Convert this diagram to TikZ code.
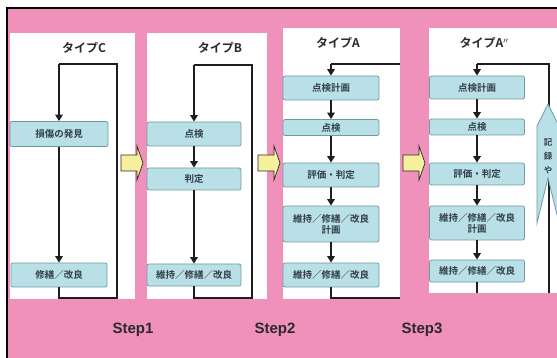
\documentclass[tikz,border=0pt]{standalone}
\usepackage{fontspec}
\setmainfont{Noto Sans CJK JP}
\newfontfamily\jpbold{Noto Sans CJK JP Bold}
\newfontfamily\stepfont{Liberation Sans}
\usetikzlibrary{arrows.meta}
\definecolor{bgpink}{HTML}{EF91BA}
\definecolor{boxfill}{HTML}{B9E0E6}
\definecolor{boxline}{HTML}{6E9AA3}
\definecolor{yarrow}{HTML}{F6F09C}
\definecolor{ink}{HTML}{2A2A2A}
\definecolor{boxink}{HTML}{33404A}
\definecolor{flowline}{HTML}{1E1E1E}
\tikzset{
  panel/.style={fill=white,draw=none},
  flowbox/.style={draw=boxline,fill=boxfill,line width=0.8pt,rounded corners=2pt,
    inner sep=0pt,align=center,text=boxink,font=\jpbold\fontsize{9.5}{11}\selectfont},
  title/.style={font=\jpbold\fontsize{12}{13}\selectfont,text=ink,inner sep=0pt},
  steplabel/.style={font=\stepfont\bfseries\fontsize{15}{16}\selectfont,text=ink,inner sep=0pt},
  loopline/.style={draw=flowline,line width=1.7pt},
  flowarrow/.style={draw=flowline,line width=1.7pt,-{Triangle[width=7.5pt,length=6.5pt]}},
  blockarrow/.style={fill=yarrow,draw=ink,line width=0.7pt,line join=miter}
}
\begin{document}
\begin{tikzpicture}[x=1pt,y=-1pt]
\useasboundingbox (0,0) rectangle (557,358);
\clip (0,0) rectangle (557,358);
% background
\fill[white] (0,0) rectangle (557,358);
\fill[bgpink] (7,8) rectangle (560,360);
\draw[black,line width=1.2pt] (7,360) -- (7,8) -- (560,8);
% panels
\fill[panel] (10,33) rectangle (135,299);
\fill[panel] (147,33) rectangle (267,299);
\fill[panel] (283,28) rectangle (400,299);
\fill[panel] (429,28) rectangle (560,293);
% titles
\node[title] (tC) at (84,48) {タイプC};
\node[title] (tB) at (220,48) {タイプB};
\node[title] (tA) at (338,43) {タイプA};
\node[title] (tAA) at (484,43) {タイプA$''$};
% ---- Type C
\node[flowbox,minimum width=98pt,minimum height=25pt] (c1) at (59,134) {損傷の発見};
\node[flowbox,minimum width=96pt,minimum height=24pt] (c2) at (59,275) {修繕／改良};
\coordinate (cTL) at (59,64);
\coordinate (cTR) at (117,64);
\coordinate (cBR) at (117,298);
\coordinate (cBL) at (59,298);
\draw[loopline] (c2.south) -- (cBL) -- (cBR) -- (cTR) -- (cTL);
\draw[flowarrow] (cTL) -- (c1.north);
\draw[flowarrow] (c1.south) -- (c2.north);
% ---- Type B
\node[flowbox,minimum width=94pt,minimum height=24pt] (b1) at (194,134) {点検};
\node[flowbox,minimum width=94pt,minimum height=22pt] (b2) at (194,179) {判定};
\node[flowbox,minimum width=94pt,minimum height=22pt] (b3) at (194,275) {維持／修繕／改良};
\coordinate (bTL) at (194,65);
\coordinate (bTR) at (252,65);
\coordinate (bBR) at (252,298);
\coordinate (bBL) at (194,298);
\draw[loopline] (b3.south) -- (bBL) -- (bBR) -- (bTR) -- (bTL);
\draw[flowarrow] (bTL) -- (b1.north);
\draw[flowarrow] (b1.south) -- (b2.north);
\draw[flowarrow] (b2.south) -- (b3.north);
% ---- Type A
\node[flowbox,minimum width=96pt,minimum height=24pt] (a1) at (331,88) {点検計画};
\node[flowbox,minimum width=96pt,minimum height=16pt] (a2) at (331,127.5) {点検};
\node[flowbox,minimum width=96pt,minimum height=24pt] (a3) at (331,175) {評価・判定};
\node[flowbox,minimum width=96pt,minimum height=36pt] (a4) at (331,224) {維持／修繕／改良\\計画};
\node[flowbox,minimum width=96pt,minimum height=24pt] (a5) at (331,275) {維持／修繕／改良};
\coordinate (aTR) at (400,64);
\coordinate (aTL) at (331,64);
\coordinate (aBL) at (331,298);
\coordinate (aBR) at (400,298);
\draw[loopline] (aTR) -- (aTL);
\draw[flowarrow] (aTL) -- (a1.north);
\draw[flowarrow] (a1.south) -- (a2.north);
\draw[flowarrow] (a2.south) -- (a3.north);
\draw[flowarrow] (a3.south) -- (a4.north);
\draw[flowarrow] (a4.south) -- (a5.north);
\draw[loopline] (a5.south) -- (aBL) -- (aBR);
% ---- Type A''
\node[flowbox,minimum width=95pt,minimum height=23pt] (d1) at (477,87.5) {点検計画};
\node[flowbox,minimum width=95pt,minimum height=16pt] (d2) at (477,127) {点検};
\node[flowbox,minimum width=95pt,minimum height=22pt] (d3) at (477,174) {評価・判定};
\node[flowbox,minimum width=95pt,minimum height=34pt] (d4) at (477,223) {維持／修繕／改良\\計画};
\node[flowbox,minimum width=95pt,minimum height=22pt] (d5) at (477,271) {維持／修繕／改良};
\coordinate (dTL) at (477,64);
\coordinate (dTR) at (549,64);
\coordinate (dBR) at (549,293);
\coordinate (dBL) at (477,293);
\draw[loopline] (dBR) -- (dTR) -- (dTL);
\draw[flowarrow] (dTL) -- (d1.north);
\draw[flowarrow] (d1.south) -- (d2.north);
\draw[flowarrow] (d2.south) -- (d3.north);
\draw[flowarrow] (d3.south) -- (d4.north);
\draw[flowarrow] (d4.south) -- (d5.north);
\draw[loopline] (d5.south) -- (dBL);
% side arrow shape
\draw[draw=boxline,fill=boxfill,line width=0.8pt]
  (537,126) -- (548,104) -- (559,126) -- (559,223) -- (548,178) -- (537,223) -- cycle;
\node[inner sep=0pt,align=center,text=boxink,font=\jpbold\fontsize{8.5}{14}\selectfont] (rec) at (548,156) {記\\録\\や};
% yellow block arrows
\draw[blockarrow] (121,155) -- (137,155) -- (137,146) -- (143,163) -- (137,180) -- (137,171) -- (121,171) -- cycle;
\draw[blockarrow] (258,155) -- (274,155) -- (274,146) -- (280,163) -- (274,180) -- (274,171) -- (258,171) -- cycle;
\draw[blockarrow] (403,155) -- (419,155) -- (419,146) -- (425,163) -- (419,180) -- (419,171) -- (403,171) -- cycle;
% step labels
\node[steplabel] (s1) at (133,330) {Step1};
\node[steplabel] (s2) at (275,330) {Step2};
\node[steplabel] (s3) at (422,330) {Step3};
\end{tikzpicture}
\end{document}
